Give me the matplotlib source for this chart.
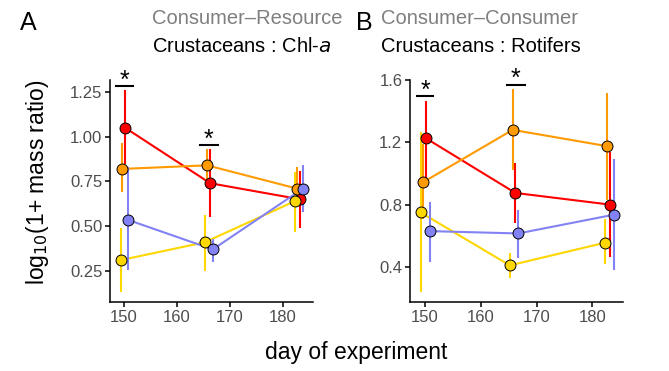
"""Two-panel mass-ratio time series (consumer-resource vs consumer-consumer)."""

import numpy as np
import matplotlib
matplotlib.use("Agg")
import matplotlib.pyplot as plt

plt.rcParams["font.family"] = ["Liberation Sans", "DejaVu Sans"]

# colours of the four series
series_colors = ["#FF0000", "#FF9A00", "#FFD700", "#8282F5"]

# ---- panel A: Crustaceans : Chl-a ----
a_days = [
    [150.25, 166.3, 183.3],   # red
    [149.75, 165.7, 182.7],   # orange
    [149.4, 165.3, 182.3],    # yellow
    [150.8, 166.8, 183.8],    # blue
]
a_mean = [
    [1.05, 0.74, 0.65],
    [0.82, 0.84, 0.71],
    [0.31, 0.41, 0.64],
    [0.535, 0.37, 0.71],
]
a_lo = [
    [0.85, 0.55, 0.49],
    [0.69, 0.75, 0.62],
    [0.13, 0.25, 0.465],
    [0.255, 0.30, 0.58],
]
a_hi = [
    [1.26, 0.93, 0.81],
    [0.965, 0.93, 0.83],
    [0.49, 0.565, 0.80],
    [0.83, 0.43, 0.84],
]
a_star_days = [(148.5, 151.8), (164.3, 167.7)]
a_star_y = [1.285, 0.955]

# ---- panel B: Crustaceans : Rotifers ----
b_days = [
    [150.2, 166.2, 183.2],
    [149.7, 165.7, 182.7],
    [149.2, 165.2, 182.2],
    [150.8, 166.7, 183.8],
]
b_mean = [
    [1.225, 0.875, 0.80],
    [0.945, 1.28, 1.175],
    [0.75, 0.41, 0.555],
    [0.63, 0.615, 0.735],
]
b_lo = [
    [0.97, 0.68, 0.465],
    [0.71, 1.02, 0.83],
    [0.24, 0.33, 0.42],
    [0.43, 0.455, 0.38],
]
b_hi = [
    [1.465, 1.07, 1.135],
    [1.19, 1.545, 1.515],
    [1.265, 0.49, 0.71],
    [0.82, 0.765, 1.09],
]
b_star_days = [(148.6, 151.5), (164.7, 167.9)]
b_star_y = [1.495, 1.57]

tick_gray = "#4D4D4D"

fig = plt.figure(figsize=(6.69, 3.71), dpi=100)
W, H = 669, 371


def _axes(x0, x1, y0, y1):
    return fig.add_axes([x0 / W, 1 - y1 / H, (x1 - x0) / W, (y1 - y0) / H])


def draw_panel(ax, days, mean, lo, hi, star_days, star_y, dy):
    for k, c in enumerate(series_colors):
        ax.plot(days[k], mean[k], color=c, lw=1.5, zorder=2)
        ax.vlines(days[k], lo[k], hi[k], color=c, lw=1.5, zorder=2)
    for k, c in enumerate(series_colors):
        ax.scatter(days[k], mean[k], s=62, color=c, edgecolor="black", linewidth=0.7, zorder=3)
    for (d0, d1), y in zip(star_days, star_y):
        ax.plot([d0, d1], [y, y], color="black", lw=1.5, clip_on=False)
        ax.text((d0 + d1) / 2, y + dy, "*", ha="center", va="center", fontsize=18, clip_on=False)
    for s in ["top", "right"]:
        ax.spines[s].set_visible(False)
    for s in ["left", "bottom"]:
        ax.spines[s].set_linewidth(1.1)
    ax.tick_params(labelcolor=tick_gray, labelsize=12, length=3.5, width=1.1, pad=2, color="black")
    ax.set_xticks([150, 160, 170, 180])


axA = _axes(110, 313, 80, 302)
draw_panel(axA, a_days, a_mean, a_lo, a_hi, a_star_days, a_star_y, 0.028)
axA.set_xlim(147.4, 185.7)
axA.set_ylim(0.076, 1.317)
axA.set_yticks([0.25, 0.50, 0.75, 1.00, 1.25])
axA.set_yticklabels(["0.25", "0.50", "0.75", "1.00", "1.25"])

axB = _axes(410, 623, 80, 302)
draw_panel(axB, b_days, b_mean, b_lo, b_hi, b_star_days, b_star_y, 0.036)
axB.set_xlim(147.3, 185.5)
axB.set_ylim(0.175, 1.6)
axB.set_yticks([0.4, 0.8, 1.2, 1.6])

# headers
fig.text(20 / W, 1 - 23 / H, "A", fontsize=18, ha="left", va="center")
fig.text(152 / W, 1 - 19 / H, "Consumer\u2013Resource", fontsize=14.5, color="#7F7F7F", ha="left", va="center")
fig.text(152 / W, 1 - 46 / H, "Crustaceans : Chl-$\\it{a}$", fontsize=14.5, ha="left", va="center")
fig.text(356 / W, 1 - 23 / H, "B", fontsize=18, ha="left", va="center")
fig.text(381 / W, 1 - 19 / H, "Consumer\u2013Consumer", fontsize=14.5, color="#7F7F7F", ha="left", va="center")
fig.text(381 / W, 1 - 46 / H, "Crustaceans : Rotifers", fontsize=14.5, ha="left", va="center")

fig.text(356 / W, 1 - 353 / H, "day of experiment", fontsize=16.5, ha="center", va="center")
fig.text(38 / W, 1 - 182 / H, "log$_{10}$(1+ mass ratio)", fontsize=16.5, rotation=90,
         ha="center", va="center")

fig.savefig("out.png", dpi=100)
